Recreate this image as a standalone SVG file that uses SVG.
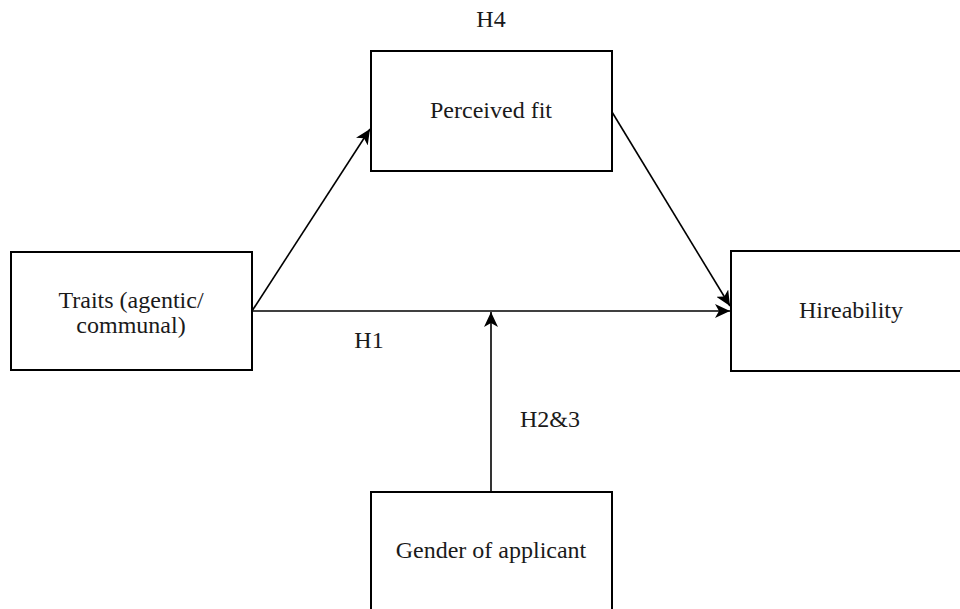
<svg xmlns="http://www.w3.org/2000/svg" width="960" height="609" viewBox="0 0 960 609">
  <style>
    .box { fill: #ffffff; stroke: #000000; stroke-width: 2; }
    .edge { fill: none; stroke: #000000; stroke-width: 1.6; }
    .lbl { font-family: "Liberation Serif", "Times New Roman", serif; font-size: 24px; fill: #1a1a1a; text-anchor: middle; }
  </style>
  <defs>
    <marker id="arrow" markerUnits="userSpaceOnUse" markerWidth="16" markerHeight="14" viewBox="0 0 16 14" refX="15" refY="7" orient="auto">
      <path d="M0,0 L15,7 L0,14 L4,7 Z" fill="#000000"/>
    </marker>
  </defs>

  <rect width="960" height="609" fill="#ffffff"/>

  <g id="connectors">
    <line class="edge" x1="252" y1="311" x2="370" y2="129" marker-end="url(#arrow)"/>
    <line class="edge" x1="252" y1="311" x2="730" y2="311" marker-end="url(#arrow)"/>
    <line class="edge" x1="612" y1="112" x2="730" y2="306" marker-end="url(#arrow)"/>
    <line class="edge" x1="491" y1="492" x2="491" y2="312" marker-end="url(#arrow)"/>
  </g>

  <g id="node-traits">
    <rect class="box" x="11" y="252" width="241" height="118"/>
    <text class="lbl" x="131" y="308">Traits (agentic/</text>
    <text class="lbl" x="131" y="333">communal)</text>
  </g>

  <g id="node-fit">
    <rect class="box" x="371" y="51" width="241" height="120"/>
    <text class="lbl" x="491" y="118">Perceived fit</text>
  </g>

  <g id="node-hireability">
    <rect class="box" x="731" y="251" width="240" height="120"/>
    <text class="lbl" x="851" y="318">Hireability</text>
  </g>

  <g id="node-gender">
    <rect class="box" x="371" y="492" width="241" height="120"/>
    <text class="lbl" x="491" y="558">Gender of applicant</text>
  </g>

  <g id="labels">
    <text class="lbl" x="491" y="27">H4</text>
    <text class="lbl" x="369" y="348">H1</text>
    <text class="lbl" x="550" y="427">H2&amp;3</text>
  </g>
</svg>
